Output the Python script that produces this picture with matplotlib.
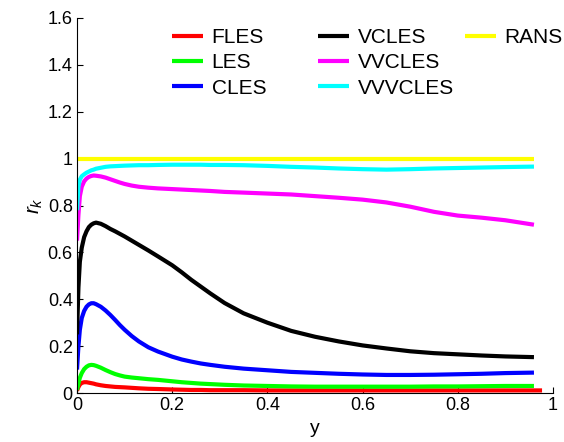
import matplotlib
matplotlib.use("Agg")
import matplotlib.pyplot as plt

plt.rcParams['font.family'] = ['Liberation Sans', 'DejaVu Sans']
plt.rcParams['mathtext.fontset'] = 'custom'
plt.rcParams['mathtext.it'] = 'Liberation Sans:italic'
plt.rcParams['mathtext.rm'] = 'Liberation Sans'

x = [0, 0.003, 0.006, 0.01, 0.015, 0.02, 0.025, 0.03, 0.035, 0.04, 0.05, 0.06, 0.07, 0.08,
     0.09, 0.1, 0.115, 0.13, 0.15, 0.17, 0.2, 0.22, 0.24, 0.26, 0.28, 0.31, 0.35, 0.4, 0.45,
     0.5, 0.55, 0.6, 0.65, 0.7, 0.75, 0.8, 0.85, 0.9, 0.96]
x_fles = x[:-1] + [0.977]

fles = [0.01, 0.025, 0.036, 0.043, 0.046, 0.046, 0.044, 0.042, 0.04, 0.037, 0.033, 0.03, 0.028, 0.026,
        0.025, 0.024, 0.022, 0.02, 0.018, 0.017, 0.015, 0.014, 0.013, 0.013, 0.012, 0.012, 0.012, 0.011, 0.011,
        0.011, 0.011, 0.011, 0.011, 0.011, 0.011, 0.011, 0.011, 0.011, 0.011]
les = [0.013, 0.04, 0.065, 0.085, 0.102, 0.112, 0.118, 0.12, 0.119, 0.116, 0.108, 0.098, 0.089, 0.081,
       0.075, 0.07, 0.066, 0.063, 0.059, 0.056, 0.05, 0.046, 0.043, 0.04, 0.038, 0.035, 0.032, 0.03, 0.028,
       0.027, 0.027, 0.027, 0.027, 0.027, 0.028, 0.028, 0.029, 0.03, 0.03]
cles = [0.1, 0.2, 0.27, 0.32, 0.35, 0.368, 0.378, 0.383, 0.383, 0.379, 0.368, 0.352, 0.333, 0.312,
        0.29, 0.27, 0.243, 0.22, 0.195, 0.177, 0.155, 0.143, 0.134, 0.126, 0.12, 0.112, 0.104, 0.097, 0.09,
        0.086, 0.082, 0.079, 0.077, 0.077, 0.078, 0.08, 0.082, 0.085, 0.087]
vcles = [0.25, 0.45, 0.56, 0.62, 0.665, 0.69, 0.708, 0.718, 0.724, 0.727, 0.722, 0.712, 0.7, 0.69,
         0.679, 0.668, 0.65, 0.632, 0.608, 0.583, 0.545, 0.515, 0.483, 0.454, 0.425, 0.384, 0.34, 0.3, 0.265,
         0.24, 0.22, 0.203, 0.19, 0.178, 0.17, 0.165, 0.16, 0.156, 0.153]
vvcles = [0.65, 0.76, 0.84, 0.88, 0.903, 0.915, 0.922, 0.926, 0.928, 0.927, 0.924, 0.919, 0.912, 0.905,
          0.898, 0.892, 0.885, 0.88, 0.876, 0.873, 0.87, 0.868, 0.866, 0.864, 0.862, 0.858, 0.855, 0.851, 0.847,
          0.84, 0.833, 0.825, 0.813, 0.795, 0.773, 0.757, 0.748, 0.737, 0.718]
vvvcles = [0.78, 0.88, 0.91, 0.925, 0.933, 0.94, 0.945, 0.95, 0.953, 0.957, 0.961, 0.965, 0.967, 0.968,
           0.969, 0.97, 0.971, 0.972, 0.972, 0.973, 0.974, 0.974, 0.974, 0.974, 0.973, 0.973, 0.972, 0.969, 0.965,
           0.962, 0.958, 0.955, 0.953, 0.955, 0.958, 0.96, 0.962, 0.964, 0.966]
rans = [1.0] * len(x)

series = [
    ("FLES", x_fles, fles, (1, 0, 0)),
    ("LES", x, les, (0, 1, 0)),
    ("CLES", x, cles, (0, 0, 1)),
    ("VCLES", x, vcles, (0, 0, 0)),
    ("VVCLES", x, vvcles, (1, 0, 1)),
    ("VVVCLES", x, vvvcles, (0, 1, 1)),
    ("RANS", x, rans, (1, 1, 0)),
]

xticks = [0, 0.2, 0.4, 0.6, 0.8, 1]
xticklabels = ["0", "0.2", "0.4", "0.6", "0.8", "1"]
yticks = [0, 0.2, 0.4, 0.6, 0.8, 1, 1.2, 1.4, 1.6]
yticklabels = ["0", "0.2", "0.4", "0.6", "0.8", "1", "1.2", "1.4", "1.6"]

W, H = 564, 442
fig = plt.figure(figsize=(W / 100, H / 100), dpi=100)
ax = fig.add_axes([77/W, 49/H, (553-77)/W, (393-18)/H])
handles = []
for name, xs, ys, c in series:
    h, = ax.plot(xs, ys, color=c, lw=3, label=name, solid_capstyle='butt')
    handles.append(h)

ax.set_xlim(0, 1)
ax.set_ylim(0, 1.6)
ax.set_xticks(xticks)
ax.set_xticklabels(xticklabels)
ax.set_yticks(yticks)
ax.set_yticklabels(yticklabels)
ax.tick_params(direction='in', length=4, labelsize=13, pad=3)
for s in ['top', 'right']:
    ax.spines[s].set_visible(False)
ax.set_xlabel("y", fontsize=14, labelpad=4)
ax.set_ylabel(r"$r_k$", fontsize=15, labelpad=2)

groups = [(handles[0:3], 172), (handles[3:6], 318), (handles[6:7], 465)]
for hs, xl in groups:
    fig.legend(handles=hs, labels=[h.get_label() for h in hs], loc='upper left',
               bbox_to_anchor=(xl / W, 1 - 28 / H), bbox_transform=fig.transFigure,
               frameon=False, fontsize=15, handlelength=1.5, handletextpad=0.4,
               labelspacing=0.3, borderpad=0, borderaxespad=0)

fig.savefig("out.png", dpi=100)
